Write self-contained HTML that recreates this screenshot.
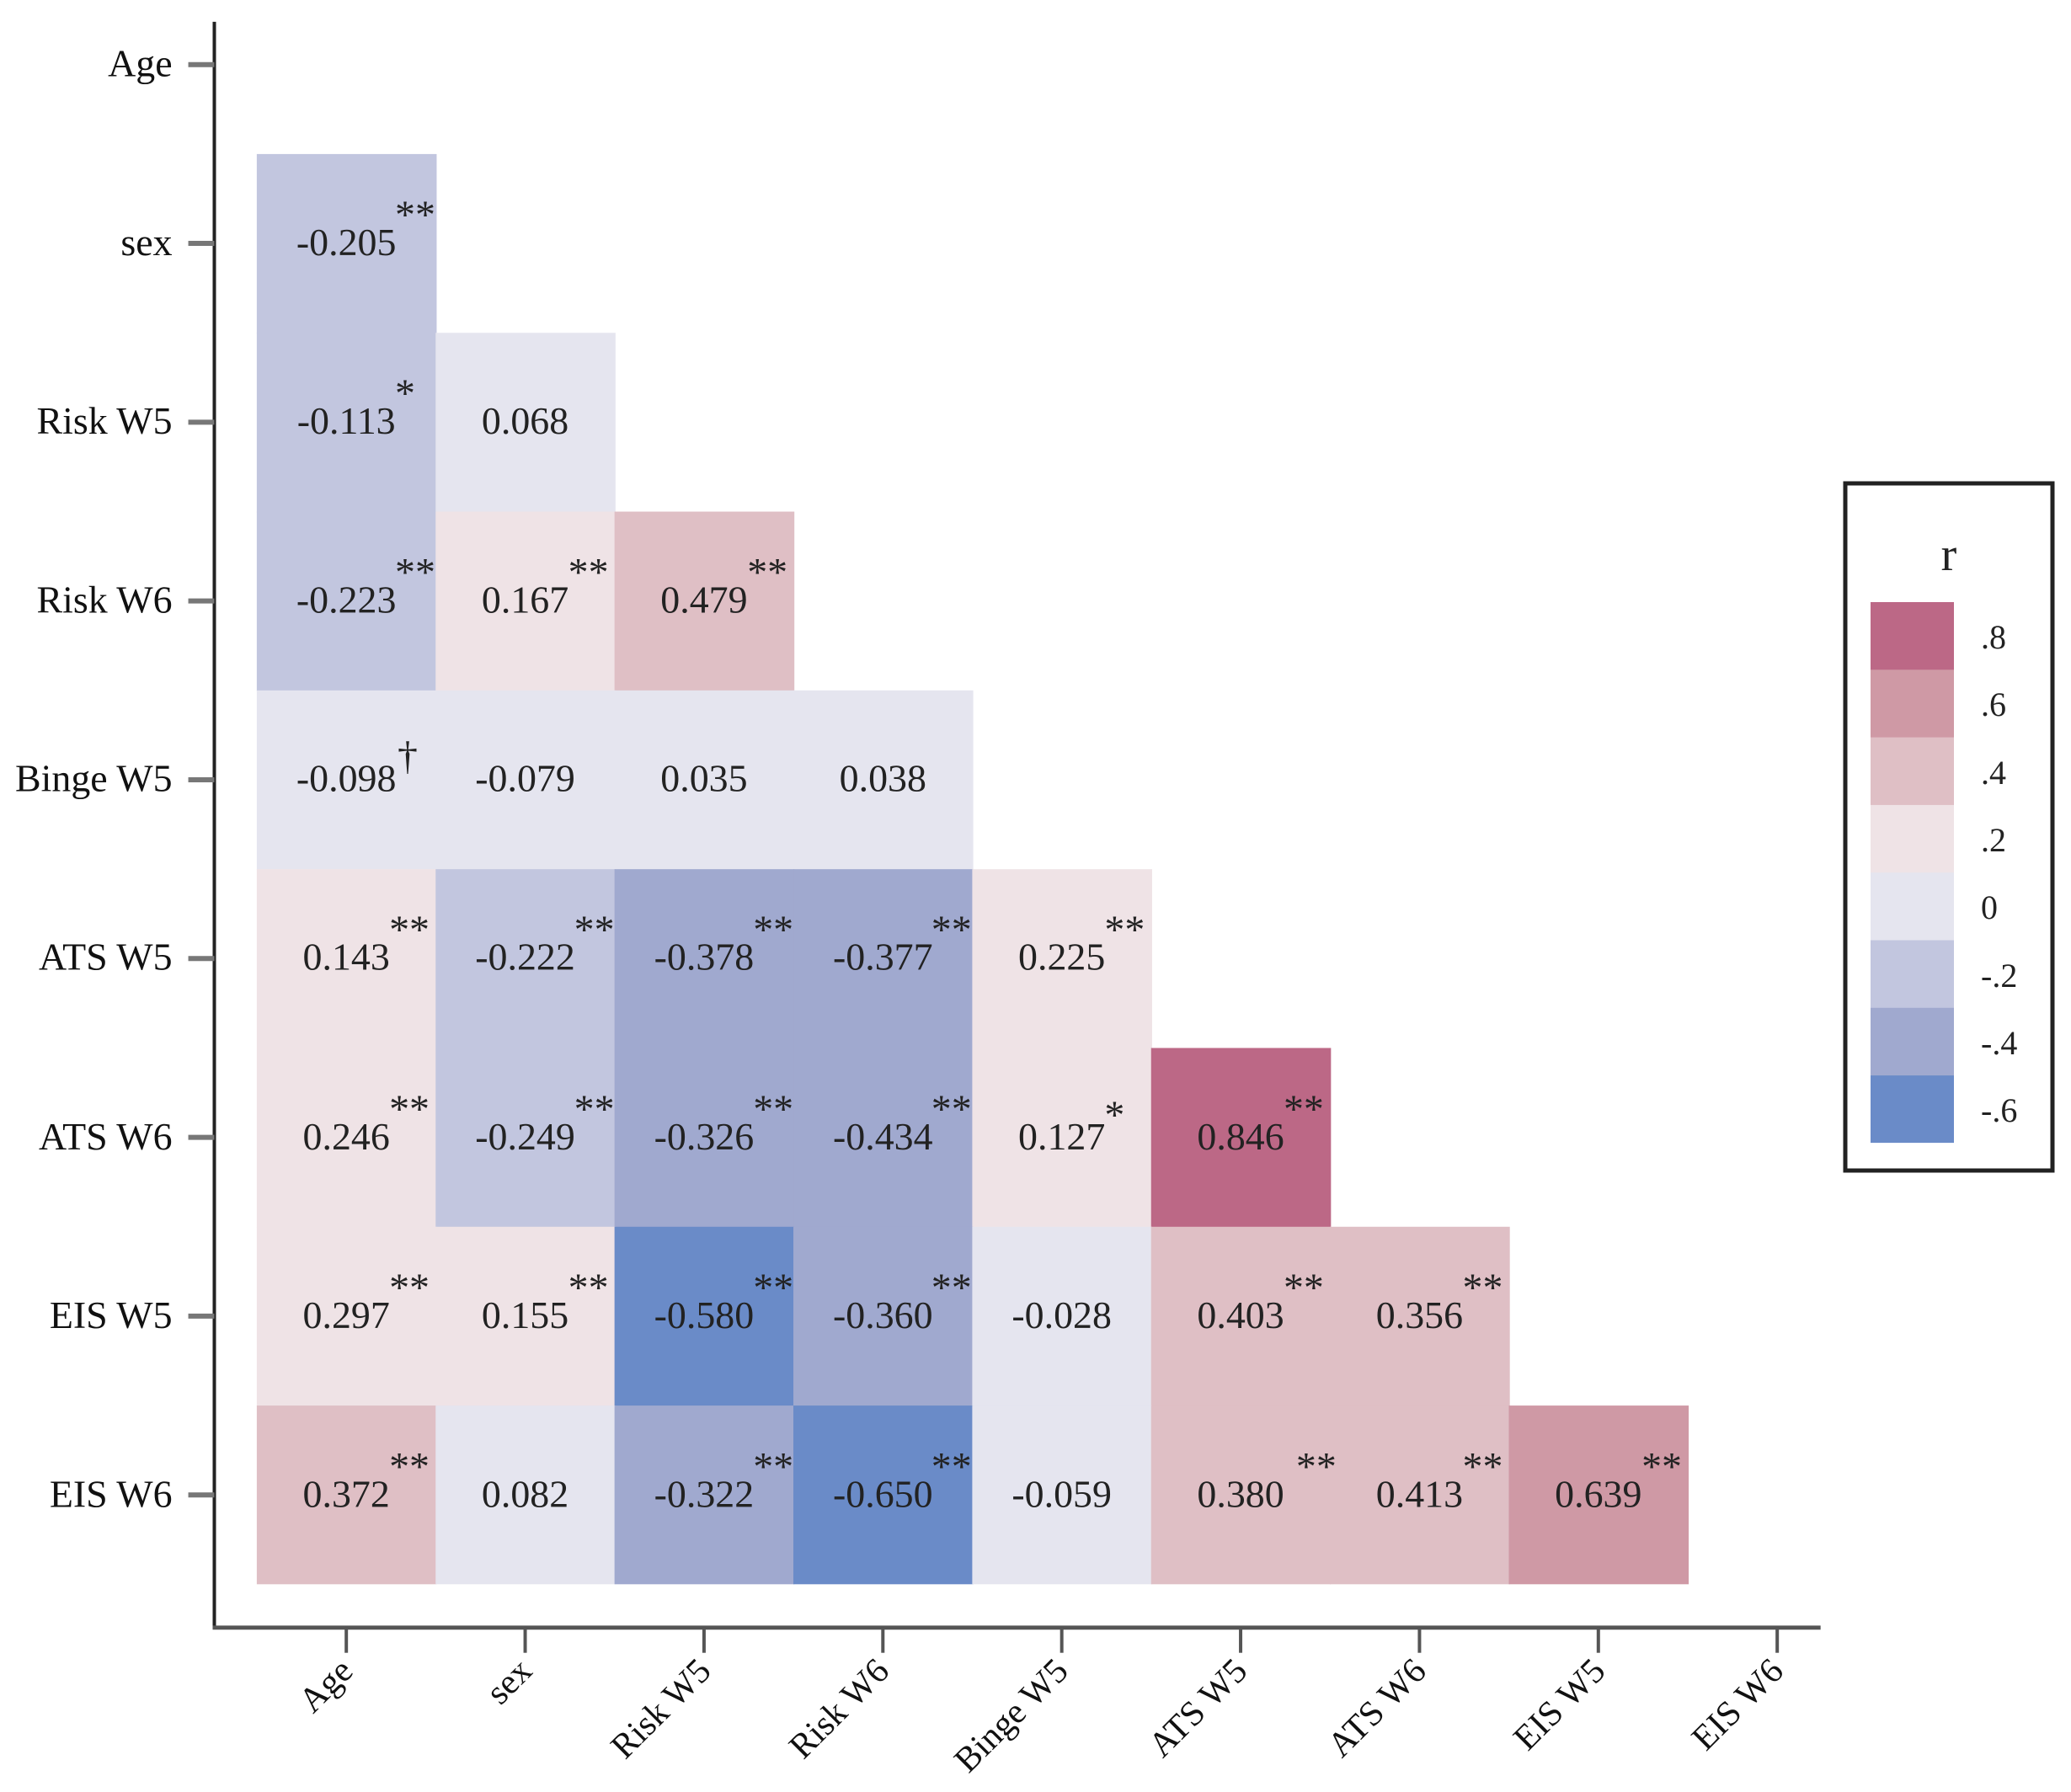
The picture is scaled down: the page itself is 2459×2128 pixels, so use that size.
<!DOCTYPE html>
<html><head><meta charset="utf-8"><style>html,body{margin:0;padding:0;background:#fff}svg{display:block}</style></head>
<body>
<svg width="2459" height="2128" viewBox="0 0 2459 2128" xmlns="http://www.w3.org/2000/svg" font-family="Liberation Serif, serif">
<g transform="translate(0,-2) scale(0.998,0.9963)">
<g>
<rect x="305.5" y="185.6" width="214" height="214" fill="#c2c6df"/>
<rect x="305.5" y="398.7" width="214" height="214" fill="#c2c6df"/>
<rect x="518.3" y="398.7" width="214" height="214" fill="#e5e5ef"/>
<rect x="305.5" y="611.8" width="214" height="214" fill="#c2c6df"/>
<rect x="518.3" y="611.8" width="214" height="214" fill="#efe3e6"/>
<rect x="731.1" y="611.8" width="214" height="214" fill="#dfbfc5"/>
<rect x="305.5" y="824.9" width="214" height="214" fill="#e5e5ef"/>
<rect x="518.3" y="824.9" width="214" height="214" fill="#e5e5ef"/>
<rect x="731.1" y="824.9" width="214" height="214" fill="#e5e5ef"/>
<rect x="943.9" y="824.9" width="214" height="214" fill="#e5e5ef"/>
<rect x="305.5" y="1038" width="214" height="214" fill="#efe3e6"/>
<rect x="518.3" y="1038" width="214" height="214" fill="#c2c6df"/>
<rect x="731.1" y="1038" width="214" height="214" fill="#a0a9cf"/>
<rect x="943.9" y="1038" width="214" height="214" fill="#a0a9cf"/>
<rect x="1156.7" y="1038" width="214" height="214" fill="#efe3e6"/>
<rect x="305.5" y="1251.1" width="214" height="214" fill="#efe3e6"/>
<rect x="518.3" y="1251.1" width="214" height="214" fill="#c2c6df"/>
<rect x="731.1" y="1251.1" width="214" height="214" fill="#a0a9cf"/>
<rect x="943.9" y="1251.1" width="214" height="214" fill="#a0a9cf"/>
<rect x="1156.7" y="1251.1" width="214" height="214" fill="#efe3e6"/>
<rect x="1369.5" y="1251.1" width="214" height="214" fill="#bc6886"/>
<rect x="305.5" y="1464.2" width="214" height="214" fill="#efe3e6"/>
<rect x="518.3" y="1464.2" width="214" height="214" fill="#efe3e6"/>
<rect x="731.1" y="1464.2" width="214" height="214" fill="#6a8bc8"/>
<rect x="943.9" y="1464.2" width="214" height="214" fill="#a0a9cf"/>
<rect x="1156.7" y="1464.2" width="214" height="214" fill="#e5e5ef"/>
<rect x="1369.5" y="1464.2" width="214" height="214" fill="#dfbfc5"/>
<rect x="1582.3" y="1464.2" width="214" height="214" fill="#dfbfc5"/>
<rect x="305.5" y="1677.3" width="214" height="213" fill="#dfbfc5"/>
<rect x="518.3" y="1677.3" width="214" height="213" fill="#e5e5ef"/>
<rect x="731.1" y="1677.3" width="214" height="213" fill="#a0a9cf"/>
<rect x="943.9" y="1677.3" width="214" height="213" fill="#6a8bc8"/>
<rect x="1156.7" y="1677.3" width="214" height="213" fill="#e5e5ef"/>
<rect x="1369.5" y="1677.3" width="214" height="213" fill="#dfbfc5"/>
<rect x="1582.3" y="1677.3" width="214" height="213" fill="#dfbfc5"/>
<rect x="1795.1" y="1677.3" width="214" height="213" fill="#cf99a5"/>
</g>
<g font-size="46" text-anchor="middle" fill="#222">
<text x="412" y="306">-0.205</text>
<text x="412" y="519">-0.113</text><text x="624.8" y="519">0.068</text>
<text x="412" y="732">-0.223</text><text x="624.8" y="732">0.167</text><text x="837.6" y="732">0.479</text>
<text x="412" y="945">-0.098</text><text x="624.8" y="945">-0.079</text><text x="837.6" y="945">0.035</text><text x="1050.4" y="945">0.038</text>
<text x="412" y="1158">0.143</text><text x="624.8" y="1158">-0.222</text><text x="837.6" y="1158">-0.378</text><text x="1050.4" y="1158">-0.377</text><text x="1263.2" y="1158">0.225</text>
<text x="412" y="1372">0.246</text><text x="624.8" y="1372">-0.249</text><text x="837.6" y="1372">-0.326</text><text x="1050.4" y="1372">-0.434</text><text x="1263.2" y="1372">0.127</text><text x="1476" y="1372">0.846</text>
<text x="412" y="1585">0.297</text><text x="624.8" y="1585">0.155</text><text x="837.6" y="1585">-0.580</text><text x="1050.4" y="1585">-0.360</text><text x="1263.2" y="1585">-0.028</text><text x="1476" y="1585">0.403</text><text x="1688.8" y="1585">0.356</text>
<text x="412" y="1798">0.372</text><text x="624.8" y="1798">0.082</text><text x="837.6" y="1798">-0.322</text><text x="1050.4" y="1798">-0.650</text><text x="1263.2" y="1798">-0.059</text><text x="1476" y="1798">0.380</text><text x="1688.8" y="1798">0.413</text><text x="1901.6" y="1798">0.639</text>
</g>
<g font-size="48" fill="#222">
<text x="470" y="274">**</text>
<text x="470" y="487">*</text>
<text x="470" y="700">**</text><text x="676" y="700">**</text><text x="889" y="700">**</text>
<text x="473" y="919">†</text>
<text x="463" y="1126">**</text><text x="683" y="1126">**</text><text x="896" y="1126">**</text><text x="1108" y="1126">**</text><text x="1314" y="1126">**</text>
<text x="463" y="1340">**</text><text x="683" y="1340">**</text><text x="896" y="1340">**</text><text x="1108" y="1340">**</text><text x="1314" y="1347">*</text><text x="1527" y="1340">**</text>
<text x="463" y="1553">**</text><text x="676" y="1553">**</text><text x="896" y="1553">**</text><text x="1108" y="1553">**</text><text x="1527" y="1553">**</text><text x="1740" y="1553">**</text>
<text x="463" y="1766">**</text><text x="896" y="1766">**</text><text x="1108" y="1766">**</text><text x="1542" y="1766">**</text><text x="1740" y="1766">**</text><text x="1953" y="1766">**</text>
</g>
<line x1="255" y1="28" x2="255" y2="1944" stroke="#222" stroke-width="4"/>
<line x1="253" y1="1942" x2="2166" y2="1942" stroke="#555" stroke-width="5"/>
<g stroke="#777" stroke-width="6">
<line x1="224" y1="79" x2="255" y2="79"/><line x1="224" y1="292.1" x2="255" y2="292.1"/><line x1="224" y1="505.2" x2="255" y2="505.2"/><line x1="224" y1="718.3" x2="255" y2="718.3"/><line x1="224" y1="931.4" x2="255" y2="931.4"/><line x1="224" y1="1144.5" x2="255" y2="1144.5"/><line x1="224" y1="1357.6" x2="255" y2="1357.6"/><line x1="224" y1="1570.7" x2="255" y2="1570.7"/><line x1="224" y1="1783.8" x2="255" y2="1783.8"/>
</g>
<g stroke="#555" stroke-width="4">
<line x1="412" y1="1942" x2="412" y2="1972"/><line x1="624.8" y1="1942" x2="624.8" y2="1972"/><line x1="837.6" y1="1942" x2="837.6" y2="1972"/><line x1="1050.4" y1="1942" x2="1050.4" y2="1972"/><line x1="1263.2" y1="1942" x2="1263.2" y2="1972"/><line x1="1476" y1="1942" x2="1476" y2="1972"/><line x1="1688.8" y1="1942" x2="1688.8" y2="1972"/><line x1="1901.6" y1="1942" x2="1901.6" y2="1972"/><line x1="2114.4" y1="1942" x2="2114.4" y2="1972"/>
</g>
<g font-size="46" fill="#111" text-anchor="end">
<text x="205" y="93">Age</text><text x="205" y="306">sex</text><text x="205" y="519">Risk W5</text><text x="205" y="732">Risk W6</text><text x="205" y="945">Binge W5</text><text x="205" y="1158">ATS W5</text><text x="205" y="1372">ATS W6</text><text x="205" y="1585">EIS W5</text><text x="205" y="1798">EIS W6</text>
</g>
<g font-size="42" fill="#111" text-anchor="end">
<text transform="translate(422,1996) rotate(-45)">Age</text>
<text transform="translate(635,1996) rotate(-45)">sex</text>
<text transform="translate(848,1996) rotate(-45)">Risk W5</text>
<text transform="translate(1060,1996) rotate(-45)">Risk W6</text>
<text transform="translate(1273,1996) rotate(-45)">Binge W5</text>
<text transform="translate(1486,1996) rotate(-45)">ATS W5</text>
<text transform="translate(1699,1996) rotate(-45)">ATS W6</text>
<text transform="translate(1912,1996) rotate(-45)">EIS W5</text>
<text transform="translate(2124,1996) rotate(-45)">EIS W6</text>
</g>
</g>
<g transform="translate(-12,-3)">
<rect x="2203" y="577" width="246" height="816" fill="#fff" stroke="#222" stroke-width="5"/>
<text x="2326" y="680" font-size="56" text-anchor="middle" fill="#222">r</text>
<g>
<rect x="2233" y="718" width="99" height="81" fill="#bc6886"/>
<rect x="2233" y="798.3" width="99" height="81" fill="#cf99a5"/>
<rect x="2233" y="878.6" width="99" height="81" fill="#dfbfc5"/>
<rect x="2233" y="958.9" width="99" height="81" fill="#efe3e6"/>
<rect x="2233" y="1039.2" width="99" height="81" fill="#e5e5ef"/>
<rect x="2233" y="1119.5" width="99" height="81" fill="#c2c6df"/>
<rect x="2233" y="1199.8" width="99" height="81" fill="#a0a9cf"/>
<rect x="2233" y="1280.1" width="99" height="80" fill="#6a8bc8"/>
</g>
<g font-size="40" fill="#222">
<text x="2364" y="773">.8</text><text x="2364" y="853">.6</text><text x="2364" y="934">.4</text><text x="2364" y="1014">.2</text><text x="2364" y="1094">0</text><text x="2364" y="1175">-.2</text><text x="2364" y="1255">-.4</text><text x="2364" y="1335">-.6</text>
</g>
</g>
</svg>
</body></html>
